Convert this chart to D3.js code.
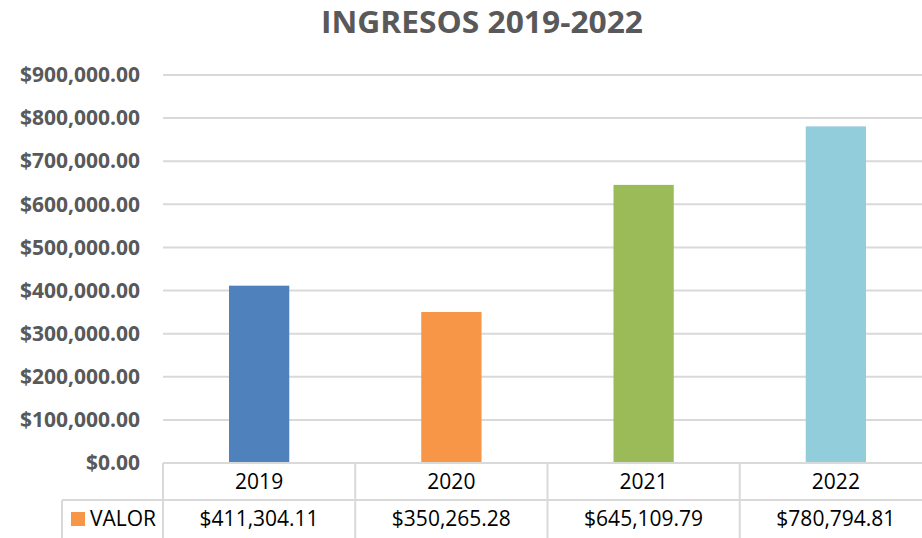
<!DOCTYPE html>
<html>
<head>
<meta charset="utf-8">
<script src="https://cdn.jsdelivr.net/npm/d3@7"></script>
<style>
  body { margin: 0; background: #fff; }
  svg { display: block; font-family: 'Open Sans', sans-serif; }
</style>
</head>
<body>
<script>
// datos
var years = ['2019', '2020', '2021', '2022']
var valores = [411304.11, 350265.28, 645109.79, 780794.81]
var colores = ['#4F81BD', '#F79646', '#9BBB59', '#92CDDC']
var yTicks = [0, 100000, 200000, 300000, 400000, 500000, 600000, 700000, 800000, 900000]
var serie = 'VALOR'
var titulo = 'INGRESOS 2019-2022'

var width = 922, height = 538
var plot = {left: 163, right: 932, top: 75, bottom: 463}
var rowH = 37

var svg = d3.select('body').append('svg')
	.attr('width', width)
	.attr('height', height)

var x = d3.scaleBand()
	.domain(years)
	.range([plot.left, plot.right])

var y = d3.scaleLinear()
	.domain([0, d3.max(yTicks)])
	.range([plot.bottom, plot.top])

var money = function (d) { return '$' + d3.format(',.2f')(d) }
var grid = '#d9d9d9'

// titulo
svg.append('text')
	.attr('x', 482)
	.attr('y', 33)
	.attr('text-anchor', 'middle')
	.attr('font-size', 30.5)
	.attr('font-weight', 'bold')
	.attr('fill', '#595959')
	.attr('textLength', 322)
	.attr('lengthAdjust', 'spacingAndGlyphs')
	.text(titulo)

// gridlines
svg.append('g')
	.selectAll('line')
	.data(yTicks.filter(function (d) { return d > 0 }))
	.enter().append('line')
	.attr('x1', plot.left)
	.attr('x2', plot.right)
	.attr('y1', function (d) { return y(d) })
	.attr('y2', function (d) { return y(d) })
	.attr('stroke', grid)
	.attr('stroke-width', 2)

// eje y
var yAxis = d3.axisLeft(y).tickValues(yTicks).tickFormat(money).tickSize(0).tickPadding(23)
var yg = svg.append('g')
	.attr('transform', 'translate(' + plot.left + ',0)')
	.call(yAxis)
yg.select('.domain').remove()
yg.selectAll('text')
	.attr('font-family', "'Open Sans', sans-serif")
	.attr('font-size', 21)
	.attr('font-weight', 'bold')
	.attr('fill', '#595959')

// barras
var barW = x.bandwidth() / 3.19
svg.append('g')
	.selectAll('rect')
	.data(valores)
	.enter().append('rect')
	.attr('x', function (d, i) { return x(years[i]) + (x.bandwidth() - barW) / 2 })
	.attr('y', function (d) { return y(d) })
	.attr('width', barW)
	.attr('height', function (d) { return y(0) - y(d) })
	.attr('fill', function (d, i) { return colores[i] })

// tabla de datos
var tabla = svg.append('g')
	.attr('stroke', grid)
	.attr('stroke-width', 2)

tabla.append('line')
	.attr('x1', plot.left).attr('x2', plot.right)
	.attr('y1', plot.bottom).attr('y2', plot.bottom)
tabla.append('line')
	.attr('x1', 62).attr('x2', plot.right)
	.attr('y1', plot.bottom + rowH).attr('y2', plot.bottom + rowH)
tabla.append('line')
	.attr('x1', 62).attr('x2', 62)
	.attr('y1', plot.bottom + rowH).attr('y2', height + 2)
tabla.selectAll('.sep')
	.data(years.concat(['end']))
	.enter().append('line')
	.attr('class', 'sep')
	.attr('x1', function (d) { return d === 'end' ? plot.right : x(d) })
	.attr('x2', function (d) { return d === 'end' ? plot.right : x(d) })
	.attr('y1', plot.bottom)
	.attr('y2', height + 2)

svg.append('g')
	.selectAll('text')
	.data(years)
	.enter().append('text')
	.attr('x', function (d) { return x(d) + x.bandwidth() / 2 })
	.attr('y', plot.bottom + 26)
	.attr('text-anchor', 'middle')
	.attr('font-size', 21)
	.attr('fill', '#000')
	.text(function (d) { return d })

svg.append('g')
	.selectAll('text')
	.data(valores)
	.enter().append('text')
	.attr('x', function (d, i) { return x(years[i]) + x.bandwidth() / 2 })
	.attr('y', plot.bottom + rowH + 26)
	.attr('text-anchor', 'middle')
	.attr('font-size', 21)
	.attr('fill', '#000')
	.text(money)

// leyenda
svg.append('rect')
	.attr('x', 71).attr('y', 512)
	.attr('width', 14).attr('height', 14)
	.attr('fill', colores[1])
svg.append('text')
	.attr('x', 90)
	.attr('y', plot.bottom + rowH + 26)
	.attr('font-size', 21)
	.attr('fill', '#000')
	.text(serie)
</script>
</body>
</html>
